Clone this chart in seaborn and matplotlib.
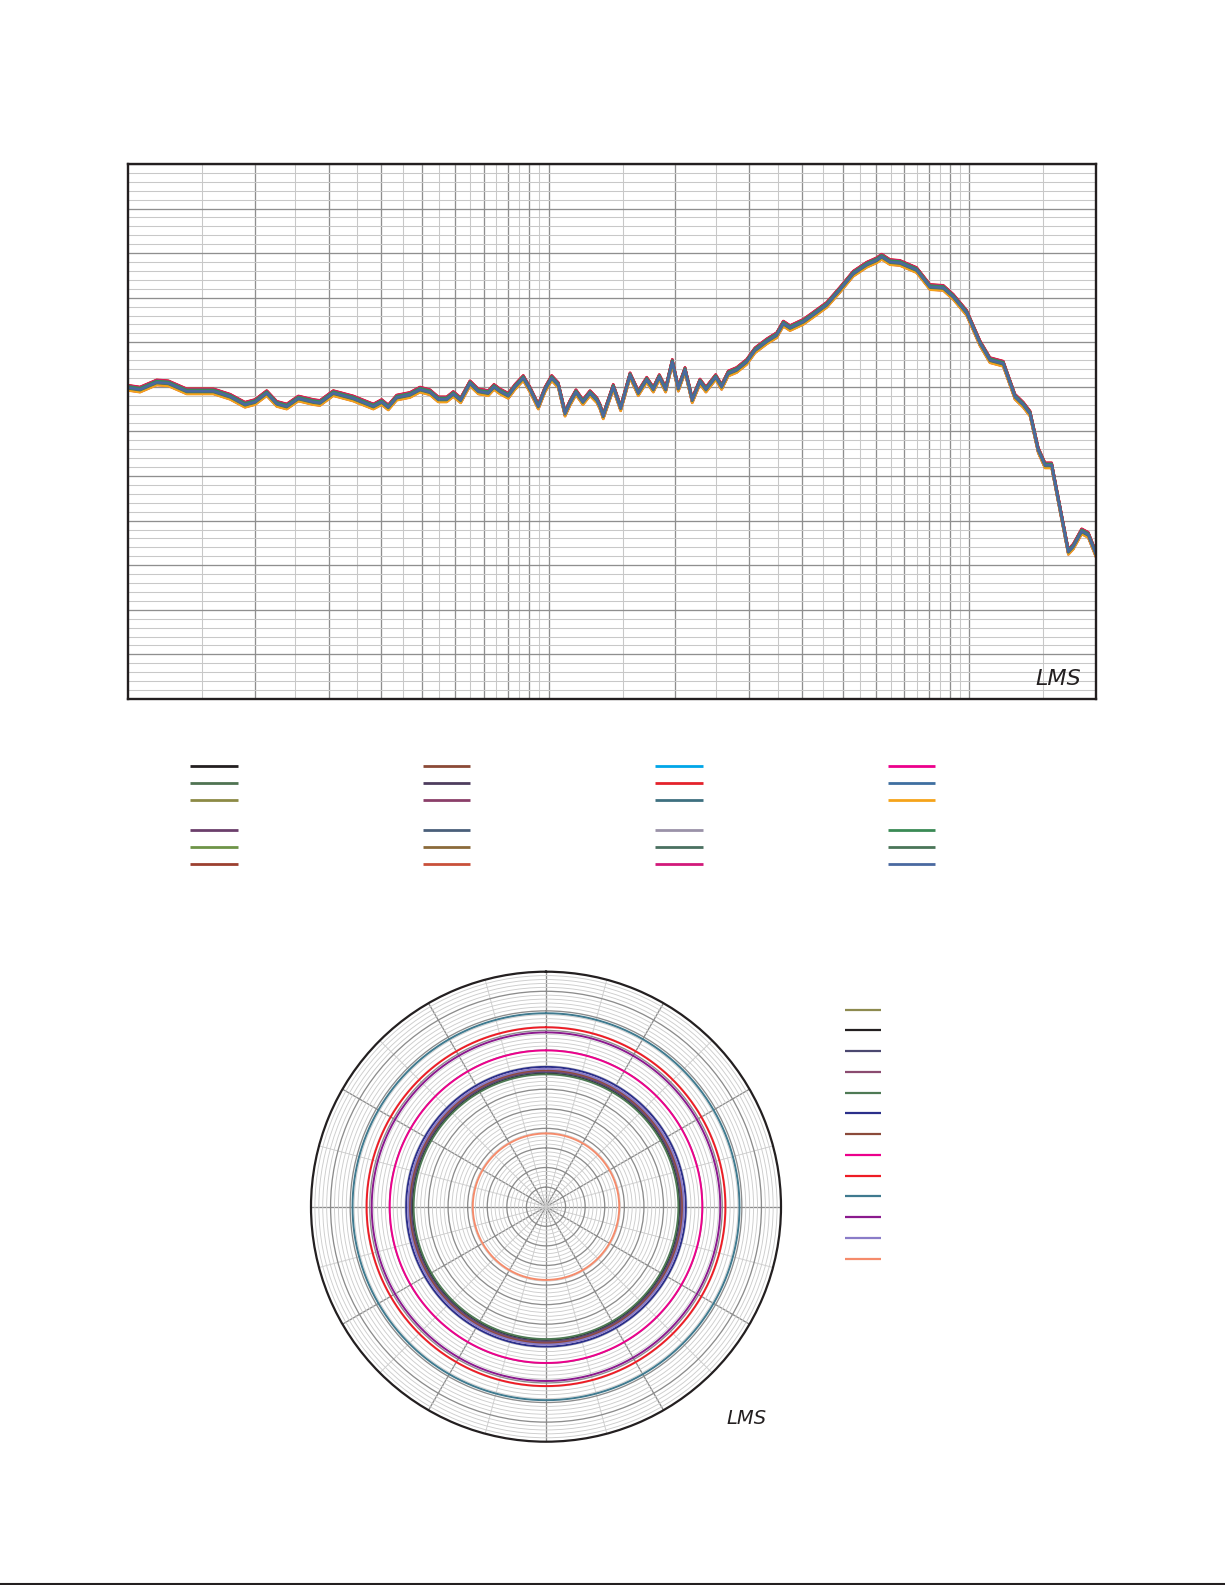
import numpy as np
import pandas as pd
import matplotlib
matplotlib.use("Agg")
import matplotlib.pyplot as plt
import seaborn as sns
from matplotlib.lines import Line2D
from matplotlib.ticker import FixedLocator, NullFormatter, MultipleLocator

sns.set_theme(style="white")
plt.rcParams['font.family'] = ['DejaVu Sans']

# ---------------- data: frequency response (base trace) ----------------
freq_hz = [100, 106.8, 117, 124.7, 137.9, 159.6, 174.8, 189.7, 200.4, 213.7,
           225.7, 238.4, 254.1, 275.7, 286.0, 307.6, 343.2, 383.0, 400.9, 415.6,
           435.2, 468.1, 494.4, 522.2, 546.5, 572.2, 593.3, 617.8, 650.1, 680.4,
           718.6, 741.3, 765.9, 801.7, 831.6, 870.3, 902.9, 944.8, 980, 1016.5,
           1053.9, 1093.6, 1123.7, 1161, 1206, 1254, 1302, 1324, 1348, 1424,
           1483, 1561, 1633, 1710, 1773, 1832, 1897, 1967, 2033, 2109,
           2194, 2289, 2365, 2494, 2577, 2672, 2798, 2955, 3093, 3298,
           3483, 3612, 3747, 4030, 4256, 4580, 4925, 5297, 5700, 6021,
           6187, 6477, 6839, 7493, 8061, 8670, 9156, 9854, 10598, 11194,
           12036, 12835, 13430, 13940, 14580, 15130, 15690, 16570, 17190, 17660,
           18490, 19170, 19890, 20000]
level_db = [74.9, 74.7, 75.5, 75.4, 74.5, 74.5, 73.9, 73.0, 73.3, 74.3,
            73.1, 72.8, 73.7, 73.3, 73.2, 74.3, 73.7, 72.8, 73.3, 72.7,
            73.8, 74.1, 74.7, 74.4, 73.6, 73.6, 74.2, 73.5, 75.4, 74.5,
            74.3, 75.0, 74.5, 74.0, 75.0, 76.0, 74.7, 72.8, 74.7, 76.0,
            75.2, 72.0, 73.2, 74.4, 73.3, 74.3, 73.5, 72.8, 71.7, 75.0,
            72.6, 76.3, 74.3, 75.8, 74.7, 76.1, 74.7, 77.8, 74.8, 76.9,
            73.5, 75.6, 74.7, 76.1, 75.0, 76.5, 76.9, 77.8, 79.1, 80.1,
            80.8, 82.1, 81.6, 82.3, 83.1, 84.2, 85.9, 87.7, 88.7, 89.2,
            89.6, 89.0, 88.9, 88.1, 86.2, 86.1, 85.1, 83.3, 79.9, 78.0,
            77.6, 73.9, 73.0, 72.0, 67.9, 66.2, 66.2, 60.4, 56.5, 57.1,
            58.8, 58.4, 56.5, 56.2]

# 24 overlaid measurements (legend is column-major, 6 per column)
series_colors = ['#231F20', '#4F7352', '#8C8A45', '#6B3F6B', '#6E9447', '#9C4030',
                 '#8B4A37', '#4E3D5E', '#8B3F69', '#4A5F7A', '#8B6A3A', '#C9503A',
                 '#00A6E8', '#E4222B', '#3E7080', '#9A92A8', '#4A7060', '#D2197A',
                 '#EC008C', '#3F6FA0', '#F5A31A', '#3A8A55', '#4A7558', '#4A69A0']
series_offsets_db = [0.12, -0.06, 0.18, -0.15, 0.06, 0.24, -0.22, 0.00,
                     0.15, -0.10, 0.22, 0.27, -0.25, 0.30, -0.12, 0.10,
                     -0.18, 0.25, -0.27, 0.04, -0.30, 0.17, -0.07, 0.02]

# ---------------- data: polar plot (level per angle) ----------------
polar_colors = ['#8D8A4F', '#231F20', '#4B4870', '#8B4B70', '#4E7A55', '#2B2F8A',
                '#8B4A3A', '#EC008C', '#EE1C25', '#3F7A8F', '#8B1A8E', '#8A7CC8',
                '#F58B6B']
polar_levels_db = [74.6, 74.0, 74.4, 74.7, 73.8, 75.7, 74.9, 79.9, 85.8, 89.4,
                   84.5, 75.2, 58.7]
polar_angles_deg = list(range(0, 361, 1))

# ---------------- figure ----------------
W, H = 1225, 1585
fig = plt.figure(figsize=(W / 100, H / 100), dpi=100)
fig.patch.set_facecolor('white')

# ---- top: frequency response ----
ax = fig.add_axes([128 / W, 1 - 699 / H, 968 / W, 535 / H])
rows = []
for i, (c, off) in enumerate(zip(series_colors, series_offsets_db)):
    for f, v in zip(freq_hz, level_db):
        rows.append((f"S{i:02d}", f, v + off))
df = pd.DataFrame(rows, columns=["series", "freq", "level"])
hue_order = [f"S{i:02d}" for i in range(len(series_colors))]
sns.lineplot(data=df, x="freq", y="level", hue="series", hue_order=hue_order,
             palette=dict(zip(hue_order, series_colors)), estimator=None,
             sort=False, legend=False, lw=1.8, ax=ax)
ax.set_xscale('log')
ax.set_xlim(100, 20000)
ax.set_ylim(40, 100)
major_f = [200, 300, 400, 500, 600, 700, 800, 900, 1000,
           2000, 3000, 4000, 5000, 6000, 7000, 8000, 9000, 10000]
minor_f = [150, 250, 350, 450, 550, 650, 750, 850, 950,
           1500, 2500, 3500, 4500, 5500, 6500, 7500, 8500, 9500, 15000]
ax.xaxis.set_major_locator(FixedLocator(major_f))
ax.xaxis.set_minor_locator(FixedLocator(minor_f))
ax.yaxis.set_major_locator(MultipleLocator(5))
ax.yaxis.set_minor_locator(MultipleLocator(1))
for a in (ax.xaxis, ax.yaxis):
    a.set_major_formatter(NullFormatter())
    a.set_minor_formatter(NullFormatter())
ax.tick_params(which='both', length=0)
ax.grid(which='major', color='#8f8f8f', lw=0.95)
ax.grid(which='minor', color='#c8c8c8', lw=0.75)
ax.set_axisbelow(True)
ax.set_xlabel('')
ax.set_ylabel('')
for s in ax.spines.values():
    s.set_visible(True)
    s.set_color('#231F20')
    s.set_linewidth(1.7)
ax.text(0.985, 0.018, "LMS", transform=ax.transAxes, ha='right', va='bottom',
        fontsize=16, style='italic', color='#231F20',
        family=['Liberation Sans Narrow', 'DejaVu Sans'])

# legends for top chart (two blocks of 3 rows x 4 columns)
def handles_for(idx, lw):
    return [Line2D([], [], color=series_colors[k], lw=lw, solid_capstyle='butt')
            for k in idx]

blockA = [c * 6 + r for c in range(4) for r in range(3)]
blockB = [c * 6 + r for c in range(4) for r in range(3, 6)]
leg_kw = dict(ncol=4, loc='upper left', frameon=False, fontsize=9,
              handlelength=3.8, handletextpad=0.0, columnspacing=14.8,
              labelspacing=0.32, borderpad=0, borderaxespad=0,
              bbox_transform=fig.transFigure)
legA = fig.legend(handles_for(blockA, 2.0), [""] * 12,
                  bbox_to_anchor=(190 / W, 1 - 760 / H), **leg_kw)
legB = fig.legend(handles_for(blockB, 2.0), [""] * 12,
                  bbox_to_anchor=(190 / W, 1 - 824.5 / H), **leg_kw)

# ---- bottom: polar plot ----
axp = fig.add_axes([311 / W, 1 - 1441.7 / H, 470 / W, 470 / H], projection='polar')
prow = []
for i, (c, v) in enumerate(zip(polar_colors, polar_levels_db)):
    for a in polar_angles_deg:
        prow.append((f"P{i:02d}", np.deg2rad(a), v))
pdf = pd.DataFrame(prow, columns=["series", "theta", "level"])
p_order = [f"P{i:02d}" for i in range(len(polar_colors))]
sns.lineplot(data=pdf, x="theta", y="level", hue="series", hue_order=p_order,
             palette=dict(zip(p_order, polar_colors)), estimator=None,
             sort=False, legend=False, lw=1.4, ax=axp)
axp.set_ylim(40, 100)
axp.set_theta_zero_location('N')
axp.xaxis.set_major_locator(FixedLocator(np.deg2rad(np.arange(0, 360, 30))))
axp.xaxis.set_minor_locator(FixedLocator(np.deg2rad(np.arange(15, 360, 30))))
axp.yaxis.set_major_locator(FixedLocator(np.arange(45, 100, 5)))
axp.yaxis.set_minor_locator(FixedLocator([v for v in range(41, 100) if v % 5]))
axp.set_xticklabels([])
axp.set_yticklabels([])
axp.xaxis.set_minor_formatter(NullFormatter())
axp.yaxis.set_minor_formatter(NullFormatter())
axp.tick_params(which='both', length=0)
axp.grid(which='major', color='#8c8c8c', lw=0.95)
axp.grid(which='minor', color='#cdcdcd', lw=0.65)
axp.set_axisbelow(True)
axp.set_xlabel('')
axp.set_ylabel('')
axp.spines['polar'].set_color('#231F20')
axp.spines['polar'].set_linewidth(1.6)
axp.text(0.97, 0.03, "LMS", transform=axp.transAxes, ha='right', va='bottom',
         fontsize=14, style='italic', color='#231F20',
         family=['Liberation Sans Narrow', 'DejaVu Sans'])

p_handles = [Line2D([], [], color=c, lw=1.6, solid_capstyle='butt') for c in polar_colors]
fig.legend(p_handles, [""] * len(p_handles), ncol=1, loc='upper left', frameon=False,
           fontsize=9, handlelength=2.9, handletextpad=0.0, labelspacing=0.62,
           borderpad=0, borderaxespad=0, bbox_transform=fig.transFigure,
           bbox_to_anchor=(845 / W, 1 - 1004 / H))

# page rule at the very bottom
fig.add_artist(Line2D([0, 1], [0.6 / H, 0.6 / H], transform=fig.transFigure,
                      color='#231F20', lw=1.5))

fig.savefig("out.png", dpi=100, facecolor='white')
